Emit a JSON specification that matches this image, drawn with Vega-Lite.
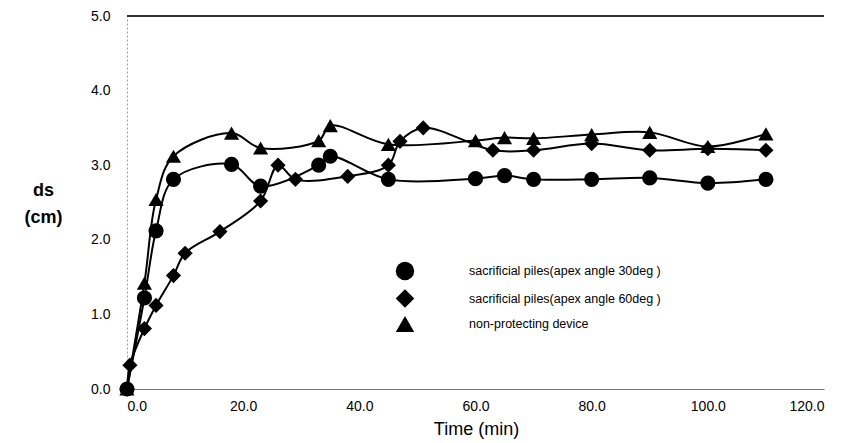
{
  "$schema": "https://vega.github.io/schema/vega-lite/v6.json",
  "width": 697,
  "height": 373,
  "autosize": "none",
  "padding": {"left": 127, "top": 16, "right": 29, "bottom": 54},
  "background": "white",
  "config": {
    "view": {"stroke": null},
    "font": "Liberation Sans",
    "axis": {"grid": false, "labelColor": "black", "titleColor": "black", "ticks": false}
  },
  "data": {
    "values": [
      {"series": "sacrificial piles(apex angle 30deg )", "t": 0, "ds": 0},
      {"series": "sacrificial piles(apex angle 30deg )", "t": 3, "ds": 1.22},
      {"series": "sacrificial piles(apex angle 30deg )", "t": 5, "ds": 2.12},
      {"series": "sacrificial piles(apex angle 30deg )", "t": 8, "ds": 2.81},
      {"series": "sacrificial piles(apex angle 30deg )", "t": 18, "ds": 3.01},
      {"series": "sacrificial piles(apex angle 30deg )", "t": 23, "ds": 2.72},
      {"series": "sacrificial piles(apex angle 30deg )", "t": 33, "ds": 3.0},
      {"series": "sacrificial piles(apex angle 30deg )", "t": 35, "ds": 3.12},
      {"series": "sacrificial piles(apex angle 30deg )", "t": 45, "ds": 2.81},
      {"series": "sacrificial piles(apex angle 30deg )", "t": 60, "ds": 2.82},
      {"series": "sacrificial piles(apex angle 30deg )", "t": 65, "ds": 2.86},
      {"series": "sacrificial piles(apex angle 30deg )", "t": 70, "ds": 2.81},
      {"series": "sacrificial piles(apex angle 30deg )", "t": 80, "ds": 2.81},
      {"series": "sacrificial piles(apex angle 30deg )", "t": 90, "ds": 2.83},
      {"series": "sacrificial piles(apex angle 30deg )", "t": 100, "ds": 2.76},
      {"series": "sacrificial piles(apex angle 30deg )", "t": 110, "ds": 2.81},
      {"series": "sacrificial piles(apex angle 60deg )", "t": 0, "ds": 0},
      {"series": "sacrificial piles(apex angle 60deg )", "t": 0.5, "ds": 0.32},
      {"series": "sacrificial piles(apex angle 60deg )", "t": 3, "ds": 0.81},
      {"series": "sacrificial piles(apex angle 60deg )", "t": 5, "ds": 1.12},
      {"series": "sacrificial piles(apex angle 60deg )", "t": 8, "ds": 1.52},
      {"series": "sacrificial piles(apex angle 60deg )", "t": 10, "ds": 1.82},
      {"series": "sacrificial piles(apex angle 60deg )", "t": 16, "ds": 2.11},
      {"series": "sacrificial piles(apex angle 60deg )", "t": 23, "ds": 2.52},
      {"series": "sacrificial piles(apex angle 60deg )", "t": 26, "ds": 3.0},
      {"series": "sacrificial piles(apex angle 60deg )", "t": 29, "ds": 2.81},
      {"series": "sacrificial piles(apex angle 60deg )", "t": 38, "ds": 2.85},
      {"series": "sacrificial piles(apex angle 60deg )", "t": 45, "ds": 3.0},
      {"series": "sacrificial piles(apex angle 60deg )", "t": 47, "ds": 3.32},
      {"series": "sacrificial piles(apex angle 60deg )", "t": 51, "ds": 3.5},
      {"series": "sacrificial piles(apex angle 60deg )", "t": 63, "ds": 3.2},
      {"series": "sacrificial piles(apex angle 60deg )", "t": 70, "ds": 3.2},
      {"series": "sacrificial piles(apex angle 60deg )", "t": 80, "ds": 3.29},
      {"series": "sacrificial piles(apex angle 60deg )", "t": 90, "ds": 3.2},
      {"series": "sacrificial piles(apex angle 60deg )", "t": 100, "ds": 3.22},
      {"series": "sacrificial piles(apex angle 60deg )", "t": 110, "ds": 3.2},
      {"series": "non-protecting device", "t": 0, "ds": 0},
      {"series": "non-protecting device", "t": 3, "ds": 1.42},
      {"series": "non-protecting device", "t": 5, "ds": 2.54},
      {"series": "non-protecting device", "t": 8, "ds": 3.12},
      {"series": "non-protecting device", "t": 18, "ds": 3.43},
      {"series": "non-protecting device", "t": 23, "ds": 3.23},
      {"series": "non-protecting device", "t": 33, "ds": 3.33},
      {"series": "non-protecting device", "t": 35, "ds": 3.53},
      {"series": "non-protecting device", "t": 45, "ds": 3.28},
      {"series": "non-protecting device", "t": 60, "ds": 3.33},
      {"series": "non-protecting device", "t": 65, "ds": 3.37},
      {"series": "non-protecting device", "t": 70, "ds": 3.36},
      {"series": "non-protecting device", "t": 80, "ds": 3.41},
      {"series": "non-protecting device", "t": 90, "ds": 3.44},
      {"series": "non-protecting device", "t": 100, "ds": 3.25},
      {"series": "non-protecting device", "t": 110, "ds": 3.42}
    ]
  },
  "encoding": {
    "x": {
      "field": "t",
      "type": "quantitative",
      "scale": {"domain": [0, 120], "nice": false, "zero": false},
      "axis": {
        "values": [0, 20, 40, 60, 80, 100, 120],
        "format": ".1f",
        "labelFontSize": 14,
        "labelPadding": 10,
        "domainColor": "#777",
        "domainWidth": 1,
        "title": "Time (min)",
        "titleFontSize": 18,
        "titleFontWeight": "normal",
        "titleY": 45,
        "titleBaseline": "alphabetic",
        "titleX": 349,
        "titleAlign": "center"
      }
    },
    "y": {
      "field": "ds",
      "type": "quantitative",
      "scale": {"domain": [0, 5], "nice": false},
      "axis": {
        "values": [0, 1, 2, 3, 4, 5],
        "format": ".1f",
        "labelFontSize": 14,
        "labelPadding": 17,
        "domainColor": "#999",
        "domainDash": [2, 2],
        "title": ["ds", "(cm)"],
        "titleFontSize": 18,
        "titleFontWeight": "bold",
        "titleAngle": 0,
        "titleAlign": "center",
        "titleBaseline": "middle",
        "titleLineHeight": 27,
        "titleX": -84,
        "titleY": 174
      }
    }
  },
  "layer": [
    {
      "mark": {"type": "rule", "color": "#333", "strokeWidth": 1},
      "encoding": {"y": {"datum": 5}, "x": {"datum": 0}, "x2": {"datum": 120}}
    },
    {
      "mark": {"type": "line", "interpolate": "catmull-rom", "color": "black", "strokeWidth": 2},
      "encoding": {"detail": {"field": "series"}}
    },
    {
      "mark": {"type": "point", "filled": true, "opacity": 1, "color": "black", "size": 230},
      "encoding": {
        "shape": {
          "field": "series",
          "type": "nominal",
          "scale": {
            "domain": ["sacrificial piles(apex angle 30deg )", "sacrificial piles(apex angle 60deg )", "non-protecting device"],
            "range": ["circle", "diamond", "triangle-up"]
          },
          "legend": {
            "orient": "none",
            "legendX": 268,
            "legendY": 245,
            "title": null,
            "padding": 0,
            "symbolSize": 340,
            "symbolFillColor": "black",
            "symbolStrokeColor": "black",
            "symbolType": "circle",
            "labelFontSize": 12.5,
            "labelLimit": 0,
            "labelColor": "black",
            "labelOffset": 54,
            "rowPadding": 1.5
          }
        }
      }
    }
  ]
}
